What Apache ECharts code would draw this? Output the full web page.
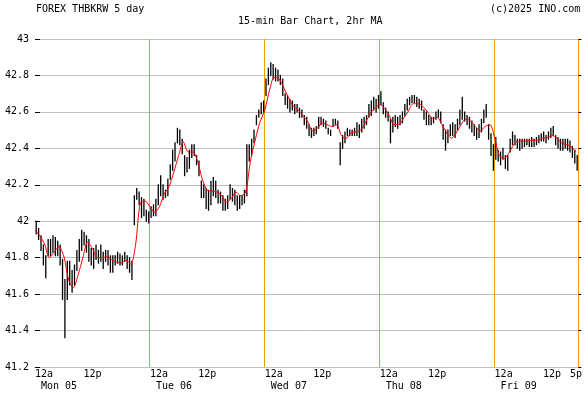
<!DOCTYPE html>
<html>
<head>
<meta charset="utf-8">
<script src="https://cdn.jsdelivr.net/npm/echarts@6/dist/echarts.min.js"></script>
<style>
html,body{margin:0;padding:0;background:#fff;}
#chart{width:585px;height:394px;}
</style>
</head>
<body>
<div id="chart"></div>
<script>
// 30-minute bars (low / high), starting Mon 05 00:00
const barLows = [
41.93,41.90,41.84,41.76,41.69,41.81,41.81,41.83,41.81,41.81,
41.76,41.57,41.36,41.57,41.65,41.61,41.65,41.73,41.78,41.84,
41.87,41.83,41.78,41.76,41.74,41.79,41.77,41.78,41.74,41.78,
41.76,41.72,41.72,41.76,41.77,41.76,41.76,41.78,41.74,41.72,
41.68,41.98,42.12,42.09,42.02,42.03,42.00,41.99,42.02,42.03,
42.03,42.09,42.14,42.12,42.13,42.14,42.23,42.28,42.33,42.43,
42.42,42.37,42.25,42.27,42.29,42.35,42.36,42.31,42.25,42.13,
42.13,42.07,42.06,42.09,42.14,42.13,42.10,42.10,42.06,42.06,
42.07,42.12,42.11,42.09,42.06,42.07,42.09,42.10,42.14,42.33,
42.36,42.43,42.53,42.57,42.59,42.60,42.69,42.75,42.80,42.78,
42.77,42.77,42.75,42.69,42.64,42.62,42.60,42.61,42.59,42.60,
42.57,42.57,42.53,42.51,42.47,42.46,42.47,42.48,42.51,42.53,
42.52,42.51,42.48,42.47,42.52,42.53,42.51,42.31,42.40,42.43,
42.47,42.47,42.47,42.47,42.47,42.46,42.49,42.51,42.53,42.57,
42.58,42.61,42.60,42.62,42.64,42.59,42.57,42.55,42.43,42.49,
42.52,42.51,42.53,42.54,42.58,42.61,42.64,42.65,42.65,42.63,
42.62,42.61,42.56,42.53,42.53,42.53,42.54,42.56,42.57,42.54,
42.45,42.39,42.43,42.47,42.47,42.46,42.50,42.53,42.56,42.55,
42.53,42.51,42.49,42.47,42.45,42.46,42.49,42.54,42.57,42.45,
42.36,42.28,42.34,42.33,42.31,42.34,42.29,42.28,42.38,42.42,
42.42,42.40,42.39,42.40,42.41,42.42,42.41,42.41,42.41,42.42,
42.43,42.44,42.44,42.43,42.45,42.46,42.47,42.42,42.40,42.39,
42.39,42.40,42.39,42.38,42.35,42.32,42.28
];
const barHighs = [
42.00,41.96,41.92,41.87,41.81,41.90,41.90,41.92,41.91,41.89,
41.87,41.79,41.68,41.78,41.78,41.73,41.76,41.84,41.90,41.95,
41.94,41.92,41.90,41.85,41.85,41.87,41.84,41.87,41.83,41.84,
41.84,41.81,41.81,41.81,41.83,41.82,41.81,41.83,41.81,41.80,
41.78,42.14,42.18,42.16,42.13,42.12,42.06,42.05,42.08,42.09,
42.12,42.20,42.25,42.20,42.17,42.23,42.31,42.39,42.43,42.51,
42.50,42.45,42.36,42.35,42.39,42.42,42.42,42.36,42.33,42.22,
42.20,42.18,42.17,42.22,42.24,42.22,42.17,42.16,42.14,42.12,
42.14,42.20,42.18,42.17,42.14,42.14,42.14,42.17,42.42,42.42,
42.45,42.50,42.58,42.61,42.65,42.66,42.78,42.84,42.87,42.86,
42.84,42.83,42.80,42.78,42.70,42.69,42.67,42.66,42.64,42.64,
42.62,42.61,42.58,42.57,42.53,42.51,42.51,42.52,42.57,42.57,
42.56,42.55,42.51,42.50,42.56,42.56,42.55,42.43,42.47,42.49,
42.51,42.50,42.50,42.51,42.54,42.53,42.56,42.57,42.58,42.64,
42.66,42.68,42.67,42.69,42.71,42.65,42.62,42.60,42.56,42.57,
42.58,42.57,42.58,42.60,42.64,42.67,42.68,42.69,42.69,42.68,
42.67,42.66,42.61,42.60,42.58,42.57,42.57,42.60,42.61,42.60,
42.53,42.50,42.50,42.53,42.54,42.53,42.56,42.61,42.68,42.60,
42.58,42.57,42.55,42.53,42.51,42.53,42.56,42.61,42.64,42.53,
42.48,42.42,42.46,42.39,42.38,42.40,42.36,42.36,42.45,42.49,
42.47,42.45,42.45,42.45,42.45,42.45,42.45,42.46,42.45,42.46,
42.47,42.48,42.49,42.47,42.49,42.51,42.52,42.47,42.46,42.45,
42.45,42.45,42.45,42.44,42.41,42.39,42.36
];
// 2hr moving average, one value per hour from Mon 05 00:00
const maValues = [
41.95,41.92,41.875,41.80,41.83,41.86,41.81,41.68,41.635,41.705,
41.80,41.885,41.85,41.80,41.80,41.805,41.79,41.775,41.77,41.785,
41.765,41.87,42.10,42.11,42.08,42.05,42.08,42.15,42.19,42.27,
42.36,42.435,42.38,42.38,42.325,42.226,42.17,42.165,42.16,42.14,
42.105,42.125,42.16,42.14,42.16,42.33,42.445,42.545,42.61,42.72,
42.79,42.78,42.73,42.675,42.63,42.61,42.58,42.545,42.495,42.51,
42.54,42.53,42.52,42.53,42.47,42.455,42.485,42.49,42.50,42.54,
42.59,42.62,42.64,42.62,42.58,42.53,42.53,42.565,42.605,42.645,
42.645,42.63,42.60,42.565,42.57,42.53,42.485,42.455,42.485,42.53,
42.56,42.55,42.52,42.495,42.52,42.53,42.46,42.36,42.345,42.375,
42.42,42.44,42.44,42.44,42.445,42.445,42.455,42.46,42.47,42.455,
42.43,42.42,42.41,42.38
];
const dayLabels = ['Mon 05','Tue 06','Wed 07','Thu 08','Fri 09'];
const dayStartHours = [0,24,48,72,96];
const noonHours = [12,36,60,84,108];
const endHour = 113;         // 5p on Fri
const endLabel = '5p';
const xMaxHour = 113.5;
const yMin = 41.2, yMax = 43, yStep = 0.2;
const titleText = 'FOREX THBKRW 5 day';
const subText = '15-min Bar Chart, 2hr MA';
const copyText = '(c)2025 INO.com';

const FONT = 'DejaVu Sans Mono';
const ORANGE = '#e8a000';
const GRID = '#c0c0c0';

const barData = barLows.map((lo, i) => [i * 0.5 + 0.25, lo, barHighs[i]]);
const maData = maValues.map((v, h) => [h, v]);
const dayLineData = dayStartHours.slice(1).map(h => [h]);

const chart = echarts.init(document.getElementById('chart'), null, {renderer: 'canvas'});
const txt = {fontFamily: FONT, fontSize: 10, color: '#000', fontWeight: 'normal'};

chart.setOption({
  animation: false,
  backgroundColor: '#fff',
  title: [
    {text: titleText, left: 36, top: 4, padding: 0, textStyle: txt},
    {text: subText, left: 238, top: 16, padding: 0, textStyle: txt},
    {text: copyText, left: 490, top: 4, padding: 0, textStyle: txt}
  ],
  grid: {left: 35, right: 3, top: 39, bottom: 27, containLabel: false},
  xAxis: [
    {
      type: 'value', min: 0, max: xMaxHour, position: 'bottom',
      axisLine: {show: true, lineStyle: {color: GRID, width: 1}},
      axisTick: {show: false},
      splitLine: {show: false},
      axisLabel: {
        show: true, margin: 1, fontFamily: FONT, fontSize: 10, color: '#000',
        lineHeight: 12, align: 'center', verticalAlign: 'top',
        customValues: noonHours.concat([endHour]),
        formatter: v => (v === endHour ? endLabel : '12p')
      }
    },
    {
      type: 'value', min: 0, max: xMaxHour, position: 'bottom',
      axisLine: {show: false},
      axisTick: {show: false},
      splitLine: {show: false},
      axisLabel: {
        show: true, margin: 1, fontFamily: FONT, fontSize: 10, color: '#000',
        lineHeight: 12, align: 'left', verticalAlign: 'top',
        customValues: dayStartHours,
        formatter: v => '12a\n ' + dayLabels[dayStartHours.indexOf(v)]
      }
    }
  ],
  yAxis: [
    {
      type: 'value', min: yMin, max: yMax, interval: yStep, position: 'left',
      axisLine: {show: false},
      axisTick: {show: true, inside: true, length: 5, lineStyle: {color: '#000', width: 1}},
      splitLine: {show: true, lineStyle: {color: GRID, width: 1}},
      axisLabel: {margin: 6, fontFamily: FONT, fontSize: 10, color: '#000',
        formatter: v => String(Math.round(v * 10) / 10)}
    },
    {
      type: 'value', min: yMin, max: yMax, interval: yStep, position: 'right',
      axisLine: {show: true, onZero: false, lineStyle: {color: ORANGE, width: 1}},
      axisTick: {show: true, inside: false, length: 3, lineStyle: {color: '#000', width: 1}},
      splitLine: {show: false},
      axisLabel: {show: false}
    }
  ],
  series: [
    {
      type: 'custom', xAxisIndex: 0, yAxisIndex: 0, clip: true, z: 1,
      data: dayLineData,
      renderItem: function (params, api) {
        const top = api.coord([api.value(0), yMax]);
        const bot = api.coord([api.value(0), yMin]);
        const x = Math.round(top[0]) - 1;
        return {
          type: 'rect',
          shape: {x: x, y: top[1], width: 1, height: bot[1] - top[1]},
          style: {fill: ORANGE}
        };
      }
    },
    {
      type: 'custom', xAxisIndex: 0, yAxisIndex: 0, clip: true, z: 2,
      data: barData,
      renderItem: function (params, api) {
        const x = api.value(0);
        const lo = api.coord([x, api.value(1)]);
        const hi = api.coord([x, api.value(2)]);
        return {
          type: 'line',
          shape: {x1: lo[0], y1: lo[1] + 0.5, x2: hi[0], y2: hi[1] - 0.5},
          style: {stroke: '#000', lineWidth: 1.3}
        };
      }
    },
    {
      type: 'line', xAxisIndex: 0, yAxisIndex: 0, z: 3,
      data: maData, showSymbol: false, symbol: 'none', smooth: 0.3,
      lineStyle: {color: '#ff0000', width: 1}
    }
  ]
});
</script>
</body>
</html>
